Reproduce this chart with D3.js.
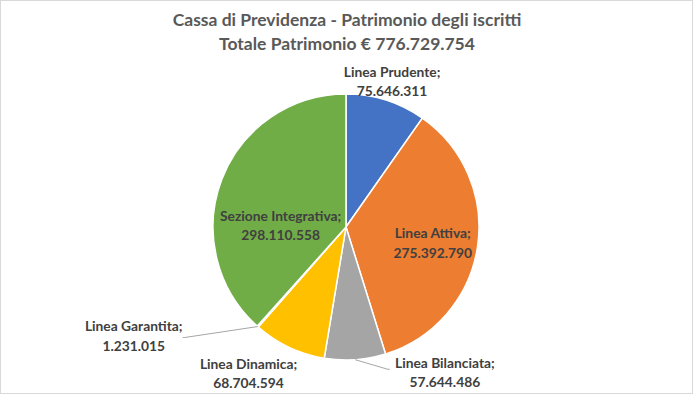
<!DOCTYPE html>
<html>
<head>
<meta charset="utf-8">
<script src="https://cdn.jsdelivr.net/npm/d3@7"></script>
<style>
  body { margin: 0; background: #fff; }
  text { font-family: Lato, "Open Sans", sans-serif; }
</style>
</head>
<body>
<div id="chart"></div>
<script>
var categories = ['Linea Prudente', 'Linea Attiva', 'Linea Bilanciata', 'Linea Dinamica', 'Linea Garantita', 'Sezione Integrativa'];
var values = [75646311, 275392790, 57644486, 68704594, 1231015, 298110558];
var colors = ['#4472C4', '#ED7D31', '#A5A5A5', '#FFC000', '#5B9BD5', '#70AD47'];
var titleLines = ['Cassa di Previdenza - Patrimonio degli iscritti', 'Totale Patrimonio € 776.729.754'];

// label placement: k = fraction of radius along slice middle, dx/dy = nudge, leader = draw line
var labelLayout = [
  { k: 1.15, dx: 0,   dy: 0,  leader: false },
  { k: 0.66, dx: 0,   dy: 2,  leader: false },
  { k: 1.08, dx: 89,  dy: 2,  leader: true  },
  { k: 1.08, dx: -36, dy: 16, leader: false },
  { k: 1.08, dx: -117, dy: 1, leader: true  },
  { k: 0.47, dx: -7,  dy: 20, leader: false }
];

var width = 694, height = 395;
var cx = 346, cy = 227, radius = 133;

var fmt = d3.formatLocale({ decimal: ',', thousands: '.', grouping: [3], currency: ['€', ''] }).format(',d');

var svg = d3.select('#chart').append('svg')
  .attr('width', width)
  .attr('height', height);

svg.append('rect')
  .attr('x', 0.5).attr('y', 0.5)
  .attr('width', width - 2).attr('height', height - 2)
  .style('fill', '#fff')
  .style('stroke', '#d9d9d9');

svg.selectAll('text.title')
  .data(titleLines)
  .enter().append('text')
  .attr('class', 'title')
  .attr('x', cx + 1)
  .attr('y', function(d, i) { return 26 + i * 24; })
  .attr('text-anchor', 'middle')
  .style('font-size', '17.5px')
  .style('font-weight', 'bold')
  .style('fill', '#595959')
  .text(function(d) { return d; });

var pie = d3.pie().sort(null).value(function(d) { return d; });
var arcs = pie(values);
var arc = d3.arc().innerRadius(0).outerRadius(radius);

var g = svg.append('g').attr('transform', 'translate(' + cx + ',' + cy + ')');

g.selectAll('path')
  .data(arcs)
  .enter().append('path')
  .attr('d', arc)
  .style('fill', function(d, i) { return colors[i]; })
  .style('stroke', '#fff')
  .style('stroke-width', 1.5);

function polar(a, r) {
  return [Math.sin(a) * r, -Math.cos(a) * r];
}

arcs.forEach(function(d, i) {
  var lay = labelLayout[i];
  var mid = (d.startAngle + d.endAngle) / 2;
  var p = polar(mid, radius * lay.k);
  var x = p[0] + lay.dx, y = p[1] + lay.dy;

  if (lay.leader) {
    var e = polar(mid, radius);
    var end = i === 4 ? [x + 51, y + 2] : [x - 57, y - 3];
    var tail = i === 4 ? [end[0] - 2, end[1]] : [end[0] + 2, end[1]];
    g.append('polyline')
      .attr('points', [e, end, tail].join(' '))
      .style('fill', 'none')
      .style('stroke', '#a6a6a6')
      .style('stroke-width', 1);
  }

  var t = g.append('text')
    .attr('x', x)
    .attr('y', y)
    .attr('text-anchor', 'middle')
    .style('font-size', '13.8px')
    .style('font-weight', 'bold')
    .style('fill', '#404040');

  t.append('tspan').attr('x', x).attr('dy', '-0.3em').text(categories[i] + ';');
  t.append('tspan').attr('x', x).attr('dy', '1.4em').text(fmt(values[i]));
});
</script>
</body>
</html>
